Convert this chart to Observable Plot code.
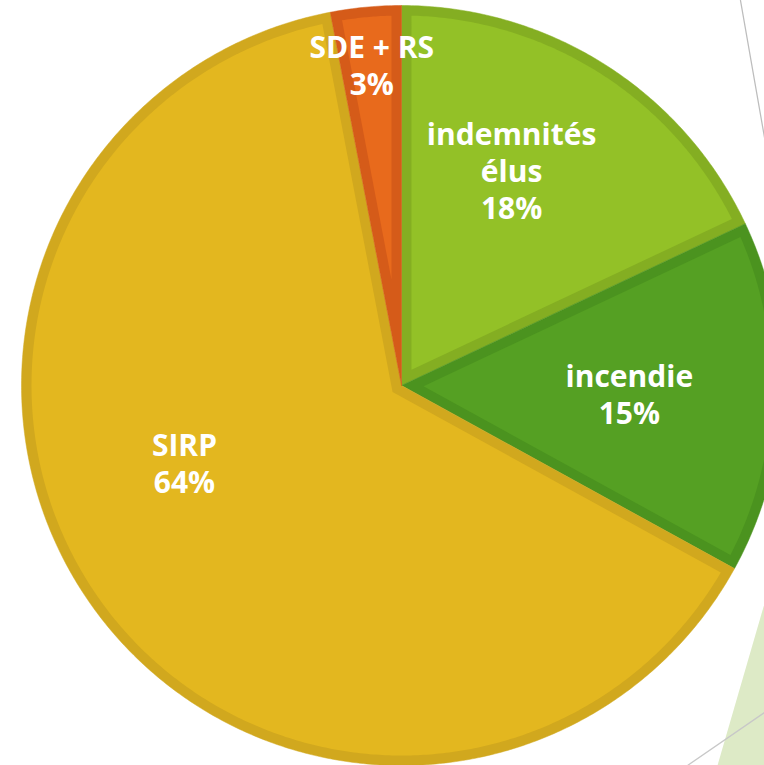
<!DOCTYPE html>
<html>
<head>
<meta charset="utf-8">
<script src="https://cdn.jsdelivr.net/npm/d3@7"></script>
<script src="https://cdn.jsdelivr.net/npm/@observablehq/plot@0.6"></script>
<style>
  html, body { margin: 0; padding: 0; background: #fff; overflow: hidden; }
</style>
</head>
<body>
<div id="chart"></div>
<script>
// ---- data ----
const categories = ["indemnités élus", "incendie", "SIRP", "SDE + RS"];
const values = [18, 15, 64, 3];
const labels = ["indemnités\nélus\n18%", "incendie\n15%", "SIRP\n64%", "SDE + RS\n3%"];
const fillColors = ["#93C127", "#55A023", "#E3B71F", "#E86A1C"];
const borderColors = ["#84AE22", "#4B931F", "#D1A81E", "#D55B19"];
// label placement: angle (deg, clockwise from 12 o'clock) and fraction of radius
const labelAngles = [27.1, 92, 250.5, 354.7];
const labelRadii = [0.636, 0.6, 0.606, 0.848];

// ---- layout ----
const W = 764, H = 765;
const CX = 401, CY = 385, R = 380, INSET = 10;

const dir = a => [Math.sin(a), -Math.cos(a)];
const pie = d3.pie().sort(null).value(d => d)(values);

const outerPts = [], innerPts = [];
pie.forEach((p, i) => {
  const a0 = p.startAngle, a1 = p.endAngle;
  // full slice
  outerPts.push({k: i, x: CX, y: CY});
  const n = Math.max(2, Math.ceil((a1 - a0) / (Math.PI / 360)));
  for (let j = 0; j <= n; j++) {
    const a = a0 + (a1 - a0) * j / n, [dx, dy] = dir(a);
    outerPts.push({k: i, x: CX + R * dx, y: CY + R * dy});
  }
  outerPts.push({k: i, x: CX, y: CY});
  // inset slice
  const half = (a1 - a0) / 2, mid = (a0 + a1) / 2;
  const dP = INSET / Math.sin(half), [mx, my] = dir(mid);
  const P = {k: i, x: CX + dP * mx, y: CY + dP * my};
  const ri = R - INSET, del = Math.asin(INSET / ri);
  innerPts.push(P);
  for (let j = 0; j <= n; j++) {
    const a = a0 + del + (a1 - a0 - 2 * del) * j / n, [dx, dy] = dir(a);
    innerPts.push({k: i, x: CX + ri * dx, y: CY + ri * dy});
  }
  innerPts.push({...P});
});

const labelData = labels.map((t, i) => {
  const [dx, dy] = dir(labelAngles[i] * Math.PI / 180);
  return {t, x: CX + labelRadii[i] * R * dx, y: CY + labelRadii[i] * R * dy};
});

// background slide decorations
const decoTriangle = [{x: 764, y: 603}, {x: 717, y: 765}, {x: 764, y: 765}, {x: 764, y: 603}];
const decoLine1 = [{x: 740, y: 0}, {x: 764, y: 137}];
const decoLine2 = [{x: 687, y: 765}, {x: 764, y: 712}];

const marks = [
  Plot.line(decoTriangle, {x: "x", y: "y", fill: "#DDEAC6", stroke: "none", clip: true}),
  Plot.line(decoLine1, {x: "x", y: "y", stroke: "#BDBDBD", strokeWidth: 1.3, clip: true}),
  Plot.line(decoLine2, {x: "x", y: "y", stroke: "#C8C8C8", strokeWidth: 1.3, clip: true})
];
categories.forEach((c, i) => {
  marks.push(Plot.line(outerPts.filter(d => d.k === i), {x: "x", y: "y", fill: borderColors[i], stroke: borderColors[i], strokeWidth: 0.5, clip: true}));
});
categories.forEach((c, i) => {
  marks.push(Plot.line(innerPts.filter(d => d.k === i), {x: "x", y: "y", fill: fillColors[i], stroke: "none", clip: true}));
});
marks.push(Plot.text(labelData, {
  x: "x", y: "y", text: "t", fill: "white", fontSize: 30, fontWeight: 700,
  fontFamily: "'Open Sans', 'Noto Sans', sans-serif", lineHeight: 1.24, textAnchor: "middle"
}));

const chart = Plot.plot({
  width: W, height: H,
  margin: 0,
  x: {domain: [0, W], range: [0, W], axis: null},
  y: {domain: [0, H], range: [0, H], axis: null},
  style: {background: "white"},
  marks
});
document.getElementById("chart").appendChild(chart);
</script>
</body>
</html>
